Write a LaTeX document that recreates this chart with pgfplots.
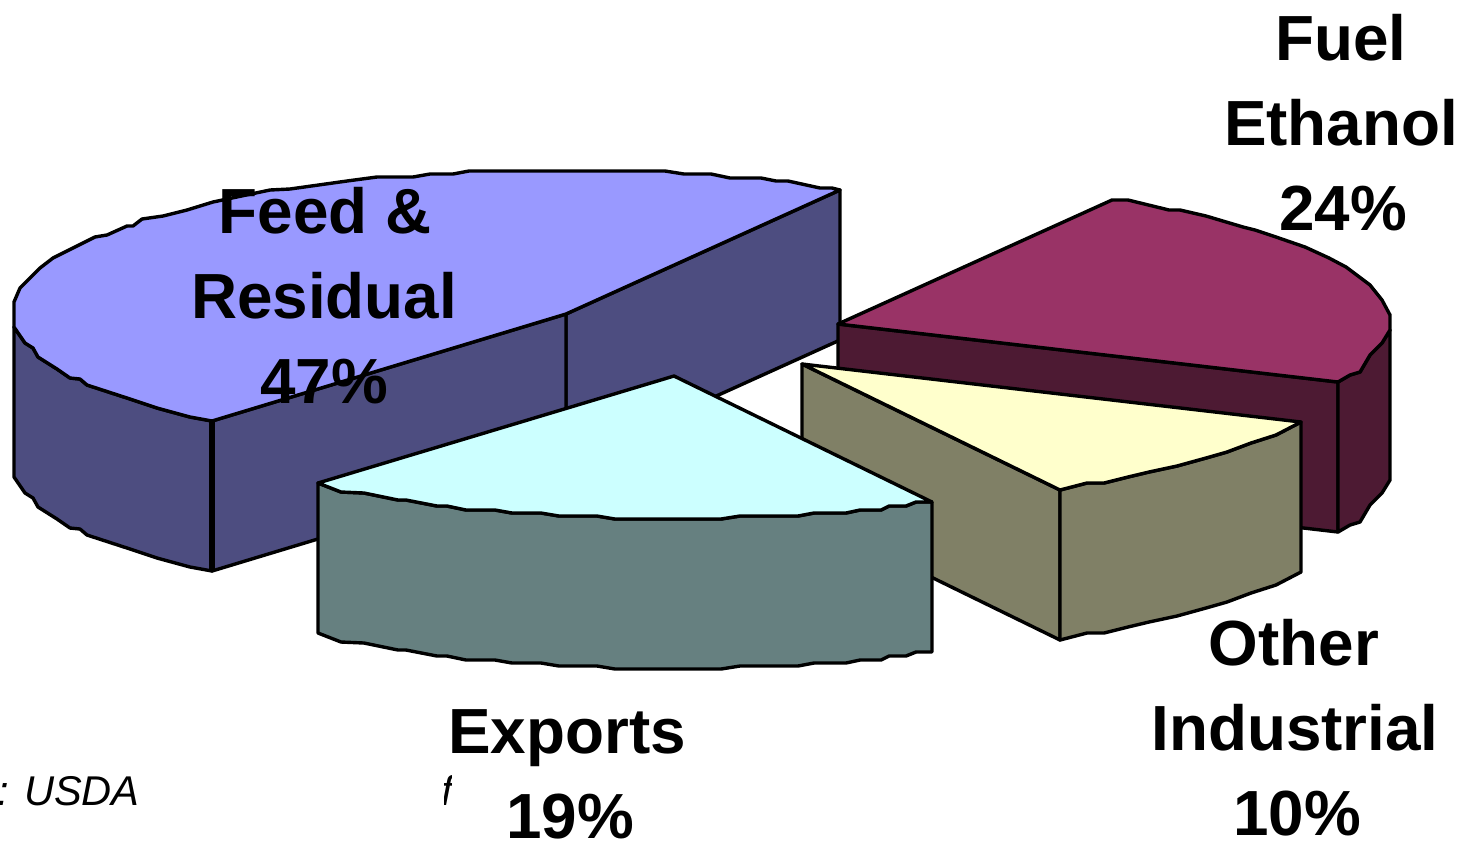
\documentclass[border=0pt]{standalone}
\usepackage{fontspec}
\setmainfont{Liberation Sans}
\usepackage{pgfplots}
\pgfplotsset{compat=1.18}

\definecolor{feedtop}{HTML}{9999FF}
\definecolor{feedside}{HTML}{4D4D80}
\definecolor{fueltop}{HTML}{993366}
\definecolor{fuelside}{HTML}{4D1A33}
\definecolor{othertop}{HTML}{FFFFCC}
\definecolor{otherside}{HTML}{808066}
\definecolor{exporttop}{HTML}{CCFFFF}
\definecolor{exportside}{HTML}{668080}

\tikzset{pie/.style={draw=black, line width=1.7pt, line join=round, mark=none}}
\newcommand{\biglabel}[3]{\node[anchor=base,inner sep=0pt,font=\fontsize{31.9}{38}\selectfont\bfseries] at (axis cs:#1,#2) {#3};}

\begin{document}
\begin{tikzpicture}
\useasboundingbox (0,0) rectangle (732.5pt,421.5pt);
\begin{axis}[
  at={(0,0)}, anchor=south west,
  scale only axis, width=732.5pt, height=421.5pt,
  xmin=0, xmax=1465, ymin=0, ymax=843, y dir=reverse,
  hide axis, clip=false
]
% feed & residual: side, cut faces, top
\addplot[pie, fill=feedside] coordinates {
(14,327)(25,343)(33,348)(38,357)(57,369)(70,378)(80,379)(87,385)(127,398)(157,408)(190,417)(212,421)
(212,571)(190,567)(157,558)(127,548)(87,535)(80,529)(70,528)(57,519)(38,507)(33,498)(25,493)(14,477)} -- cycle;
\addplot[pie, fill=feedside] coordinates {(566,314)(840,190)(840,340)(566,464)} -- cycle;
\addplot[pie, fill=feedside] coordinates {(212,421)(566,314)(566,464)(212,571)} -- cycle;
\addplot[pie, line width=2.6pt] coordinates {(212,421)(212,571)};
\addplot[pie, fill=feedtop] coordinates {
(14,327)(14,302)(20,288)(40,268)(53,258)(95,237)(107,235)(127,226)(133,226)(142,219)(163,216)(187,210)
(213,202)(270,190)(290,189)(347,181)(377,177)(413,177)(430,174)(453,174)(469,171)(665,171)(684,174)
(711,174)(730,178)(761,178)(776,181)(788,181)(820,188)(832,188)(840,190)
(566,314)(212,421)(190,417)(157,408)(127,398)(87,385)(80,379)(70,378)(57,369)(38,357)(33,348)(25,343)} -- cycle;
% fuel ethanol
\addplot[pie, fill=fuelside] coordinates {(838,324)(1338,382)(1338,532)(838,474)} -- cycle;
\addplot[pie, fill=fuelside] coordinates {
(1390,330)(1382,343)(1370,355)(1360,372)(1350,375)(1338,382)
(1338,532)(1350,525)(1360,522)(1370,505)(1382,493)(1390,480)} -- cycle;
\addplot[pie, fill=fueltop] coordinates {
(838,324)(1112,200)(1128,200)(1169,210)(1180,210)(1206,216)(1243,227)(1255,230)(1276,237)(1305,247)
(1329,258)(1346,267)(1370,285)(1382,300)(1390,315)(1390,330)(1382,343)(1370,355)(1360,372)(1350,375)(1338,382)} -- cycle;
% other industrial
\addplot[pie, fill=otherside] coordinates {(802,364)(1060,490)(1060,640)(802,514)} -- cycle;
\addplot[pie, fill=otherside] coordinates {
(1060,490)(1087,483)(1104,483)(1128,477)(1149,472)(1177,466)(1206,458)(1227,452)(1251,443)(1276,435)(1301,422)
(1301,572)(1276,585)(1251,593)(1227,602)(1206,608)(1177,616)(1149,622)(1128,627)(1104,633)(1087,633)(1060,640)} -- cycle;
\addplot[pie, fill=othertop] coordinates {
(802,364)(1301,422)(1276,435)(1251,443)(1227,452)(1206,458)(1177,466)(1149,472)(1128,477)(1104,483)(1087,483)(1060,490)} -- cycle;
% exports
\addplot[pie, fill=exportside] coordinates {
(318,483)(341,492)(364,493)(398,500)(406,500)(437,506)(447,506)(466,510)(495,510)(512,513)(541,513)(559,516)
(597,516)(615,519)(721,519)(740,516)(798,516)(814,513)(846,513)(860,510)(881,510)(889,506)(906,506)(916,502)(932,502)
(932,652)(916,652)(906,656)(889,656)(881,660)(860,660)(846,663)(814,663)(798,666)(740,666)(721,669)(615,669)
(597,666)(559,666)(541,663)(512,663)(495,660)(466,660)(447,656)(437,656)(406,650)(398,650)(364,643)(341,642)(318,633)} -- cycle;
\addplot[pie, fill=exporttop] coordinates {
(318,483)(674,376)(932,502)(916,502)(906,506)(889,506)(881,510)(860,510)(846,513)(814,513)(798,516)(740,516)
(721,519)(615,519)(597,516)(559,516)(541,513)(512,513)(495,510)(466,510)(447,506)(437,506)(406,500)(398,500)(364,493)(341,492)} -- cycle;
% labels
\biglabel{1341}{60}{Fuel}
\biglabel{1341}{145}{Ethanol}
\biglabel{1343}{230}{24\%}
\biglabel{325}{233}{Feed \&}
\biglabel{324}{318}{Residual}
\biglabel{324}{403}{47\%}
\biglabel{567}{753}{Exports}
\biglabel{570}{838}{19\%}
\biglabel{1294}{665}{Other}
\biglabel{1295}{750}{Industrial}
\biglabel{1297}{835}{10\%}
\node[anchor=base east,inner sep=0pt,font=\fontsize{20.8}{25}\selectfont\itshape] at (axis cs:140,805) {: USDA};
\begin{scope}
\clip (axis cs:444,770) rectangle (axis cs:451,812);
\node[anchor=base west,inner sep=0pt,font=\fontsize{20.8}{25}\selectfont\itshape] at (axis cs:441,805) {f};
\end{scope}
\end{axis}
\end{tikzpicture}
\end{document}
